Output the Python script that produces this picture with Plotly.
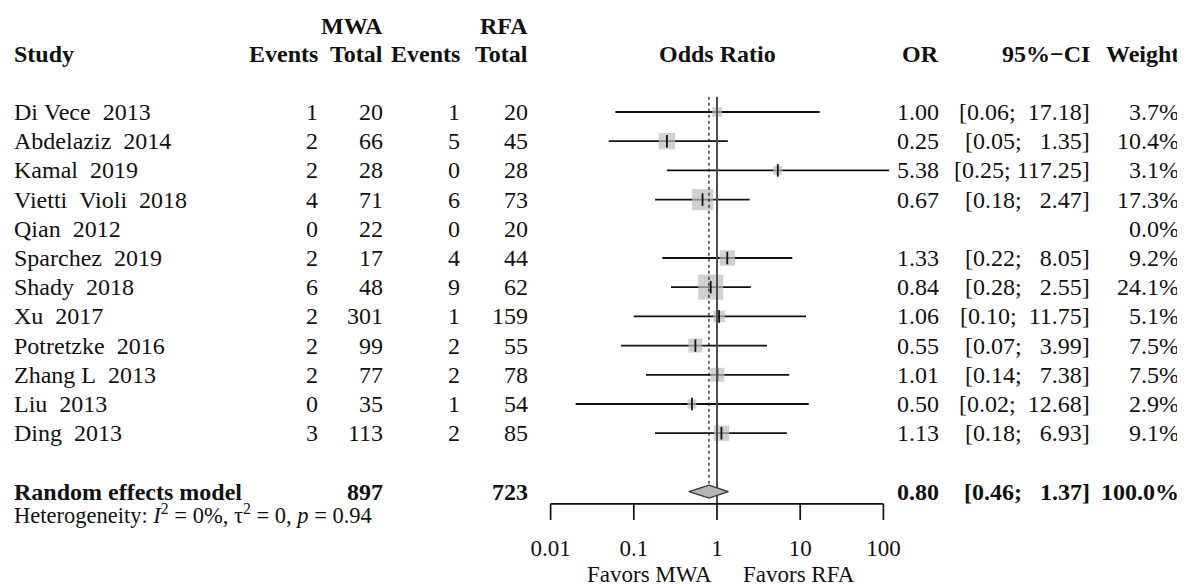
import math
import plotly.graph_objects as go

# ---------------- data ----------------
studies = ["Di Vece  2013", "Abdelaziz  2014", "Kamal  2019", "Vietti  Violi  2018",
           "Qian  2012", "Sparchez  2019", "Shady  2018", "Xu  2017",
           "Potretzke  2016", "Zhang L  2013", "Liu  2013", "Ding  2013"]
mwa_events = [1, 2, 2, 4, 0, 2, 6, 2, 2, 2, 0, 3]
mwa_total = [20, 66, 28, 71, 22, 17, 48, 301, 99, 77, 35, 113]
rfa_events = [1, 5, 0, 6, 0, 4, 9, 1, 2, 2, 1, 2]
rfa_total = [20, 45, 28, 73, 20, 44, 62, 159, 55, 78, 54, 85]
odds_ratio = [1.00, 0.25, 5.38, 0.67, None, 1.33, 0.84, 1.06, 0.55, 1.01, 0.50, 1.13]
ci_lower = [0.06, 0.05, 0.25, 0.18, None, 0.22, 0.28, 0.10, 0.07, 0.14, 0.02, 0.18]
ci_upper = [17.18, 1.35, 117.25, 2.47, None, 8.05, 2.55, 11.75, 3.99, 7.38, 12.68, 6.93]
weights = [3.7, 10.4, 3.1, 17.3, 0.0, 9.2, 24.1, 5.1, 7.5, 7.5, 2.9, 9.1]

pooled_label = "Random effects model"
pooled_or = 0.80
pooled_lower = 0.46
pooled_upper = 1.37
pooled_weight = 100.0
pooled_mwa_total = 897
pooled_rfa_total = 723
heterogeneity = "Heterogeneity: <i>I</i><sup>2</sup> = 0%, \u03c4<sup>2</sup> = 0, <i>p</i> = 0.94"

tick_values = [0.01, 0.1, 1, 10, 100]
tick_labels = ["0.01", "0.1", "1", "10", "100"]
label_left = "Favors MWA"
label_right = "Favors RFA"

# ---------------- layout constants ----------------
PAGE_W, PAGE_H = 1185, 587
OFF = 8                      # default body margin of the html page
W, H = PAGE_W - OFF, PAGE_H - OFF
FONT = "Liberation Serif"
FS = 24
FS_AX = 23
TXT = "#111111"
NB = "\u00a0"


def fx(page_px):
    return page_px - OFF


x_null_px = fx(717.0)        # pixel of OR = 1
px_per_decade = 83.2
row0_px = fx(112.0)          # pixel of first study row
row_step = 29.2              # pixels per row

xr = [(0 - x_null_px) / px_per_decade, (W - x_null_px) / px_per_decade]
yr = [(H - row0_px) / row_step, (0 - row0_px) / row_step]

n = len(studies)
rows = list(range(n))
pooled_row = n + 1
header_row = -1.98
group_row = -2.95
axis_row = pooled_row + 0.42
tick_end_row = axis_row + 0.55
ticklab_row = pooled_row + 2.0
favors_row = pooled_row + 2.84
hetero_row = pooled_row + 0.78
top_row = -0.52

col_study = fx(12)
col_ev1 = fx(320)
col_tot1 = fx(385)
col_ev2 = fx(462)
col_tot2 = fx(530)
col_or = fx(941)
col_ci = fx(1092)
col_w = fx(1181)
favors_left_x = fx(649)
favors_right_x = fx(799)


def fmt_ci(lo, hi):
    up = f"{hi:6.2f}".replace(" ", NB)
    return f"[{lo:.2f};{NB}{up}]"


fig = go.Figure()

# CI lines
cx, cy = [], []
for i in rows:
    if odds_ratio[i] is None:
        continue
    cx += [ci_lower[i], ci_upper[i], None]
    cy += [i, i, None]
fig.add_trace(go.Scatter(x=cx, y=cy, mode="lines",
                         line=dict(color="#111111", width=1.8),
                         hoverinfo="skip", showlegend=False))

# squares sized by weight
sq_x = [odds_ratio[i] for i in rows if odds_ratio[i] is not None]
sq_y = [i for i in rows if odds_ratio[i] is not None]
sq_s = [5.1 * math.sqrt(weights[i]) for i in rows if odds_ratio[i] is not None]
fig.add_trace(go.Scatter(x=sq_x, y=sq_y, mode="markers",
                         marker=dict(symbol="square", size=sq_s, color="#bdbdbd",
                                     line=dict(width=0)),
                         hoverinfo="skip", showlegend=False))
# centre tick marks
fig.add_trace(go.Scatter(x=sq_x, y=sq_y, mode="markers",
                         marker=dict(symbol="line-ns", size=9,
                                     line=dict(color="#111111", width=1.8)),
                         hoverinfo="skip", showlegend=False))

# null line (solid) and pooled line (dotted)
fig.add_trace(go.Scatter(x=[1, 1], y=[top_row, axis_row], mode="lines",
                         line=dict(color="#4d4d4d", width=2),
                         hoverinfo="skip", showlegend=False))
fig.add_trace(go.Scatter(x=[pooled_or, pooled_or], y=[top_row, pooled_row], mode="lines",
                         line=dict(color="#111111", width=1.2, dash="dot"),
                         hoverinfo="skip", showlegend=False))

# diamond
dh = 0.22
fig.add_trace(go.Scatter(x=[pooled_lower, pooled_or, pooled_upper, pooled_or, pooled_lower],
                         y=[pooled_row, pooled_row - dh, pooled_row, pooled_row + dh, pooled_row],
                         mode="lines", fill="toself", fillcolor="#b5b5b5",
                         line=dict(color="#333333", width=1.3),
                         hoverinfo="skip", showlegend=False))

# x axis line and ticks
ax_x = [tick_values[0], tick_values[-1]]
fig.add_trace(go.Scatter(x=ax_x, y=[axis_row, axis_row], mode="lines",
                         line=dict(color="#111111", width=1.7),
                         hoverinfo="skip", showlegend=False))
tx, ty = [], []
for v in tick_values:
    tx += [v, v, None]
    ty += [axis_row, tick_end_row, None]
fig.add_trace(go.Scatter(x=tx, y=ty, mode="lines",
                         line=dict(color="#111111", width=1.7),
                         hoverinfo="skip", showlegend=False))
fig.add_trace(go.Scatter(x=tick_values, y=[ticklab_row] * len(tick_values), mode="text",
                         text=tick_labels, textposition="middle center",
                         textfont=dict(family=FONT, size=FS_AX, color=TXT),
                         cliponaxis=False, hoverinfo="skip", showlegend=False))

ann = []


def add(text, xpx, row, anchor="right", bold=False, size=FS):
    t = f"<b>{text}</b>" if bold else text
    ann.append(dict(text=t, x=xpx / W, xref="paper", y=row, yref="y",
                    xanchor=anchor, yanchor="middle", showarrow=False,
                    font=dict(family=FONT, size=size, color=TXT)))


# headers
add("MWA", col_tot1, group_row, bold=True)
add("RFA", col_tot2, group_row, bold=True)
add("Study", col_study, header_row, anchor="left", bold=True)
add("Events", col_ev1, header_row, bold=True)
add("Total", col_tot1, header_row, bold=True)
add("Events", col_ev2, header_row, bold=True)
add("Total", col_tot2, header_row, bold=True)
add("Odds Ratio", x_null_px, header_row, anchor="center", bold=True)
add("OR", col_or, header_row, bold=True)
add("95%\u2212CI", col_ci, header_row, bold=True)
add("Weight", col_w, header_row, bold=True)

for i in rows:
    add(studies[i].replace(" ", NB), col_study, i, anchor="left")
    add(str(mwa_events[i]), col_ev1, i)
    add(str(mwa_total[i]), col_tot1, i)
    add(str(rfa_events[i]), col_ev2, i)
    add(str(rfa_total[i]), col_tot2, i)
    if odds_ratio[i] is not None:
        add(f"{odds_ratio[i]:.2f}", col_or, i)
        add(fmt_ci(ci_lower[i], ci_upper[i]), col_ci, i)
    add(f"{weights[i]:.1f}%", col_w, i)

add(pooled_label, col_study, pooled_row, anchor="left", bold=True)
add(str(pooled_mwa_total), col_tot1, pooled_row, bold=True)
add(str(pooled_rfa_total), col_tot2, pooled_row, bold=True)
add(f"{pooled_or:.2f}", col_or, pooled_row, bold=True)
add(fmt_ci(pooled_lower, pooled_upper), col_ci, pooled_row, bold=True)
add(f"{pooled_weight:.1f}%", col_w, pooled_row, bold=True)
add(heterogeneity, col_study, hetero_row, anchor="left", size=22.5)

add(label_left, favors_left_x, favors_row, anchor="center", size=FS_AX)
add(label_right, favors_right_x, favors_row, anchor="center", size=FS_AX)

fig.update_layout(
    width=W, height=H, autosize=False,
    margin=dict(l=0, r=0, t=0, b=0),
    paper_bgcolor="white", plot_bgcolor="white",
    showlegend=False,
    xaxis=dict(type="log", range=xr, domain=[0, 1], showgrid=False, zeroline=False,
               showticklabels=False, ticks="", showline=False, fixedrange=True),
    yaxis=dict(range=yr, domain=[0, 1], showgrid=False, zeroline=False,
               showticklabels=False, ticks="", showline=False, fixedrange=True),
    annotations=ann,
)

fig.write_html("out.html")
